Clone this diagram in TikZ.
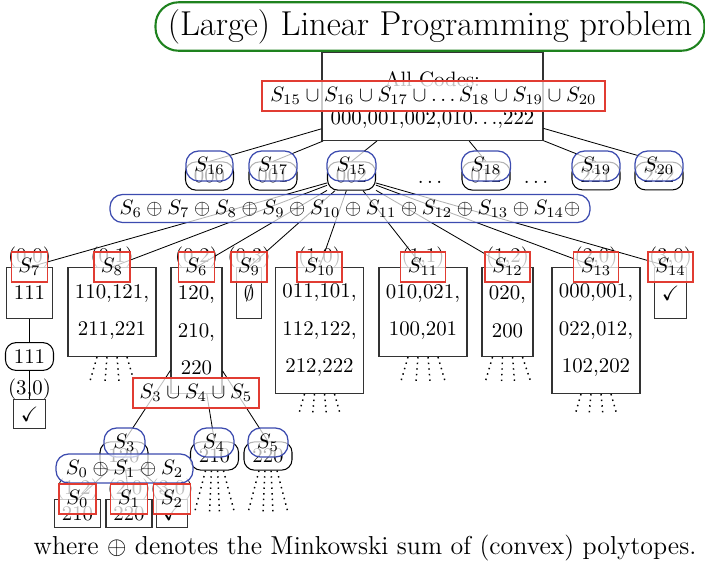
\documentclass[tikz,border=0pt]{standalone}
\usepackage{amssymb}
\usetikzlibrary{calc}
\definecolor{setred}{RGB}{225,60,50}
\definecolor{setblue}{RGB}{60,75,175}
\definecolor{titlegreen}{RGB}{30,130,30}
\newdimen\pxu \pxu=0.48pt
% four dotted stubs under a node: #1 node, #2 length, #3 top offsets/bottom offsets
\newcommand\stubs[3]{%
  \foreach \t/\d in {#3}{%
    \draw[stub] ($(#1.south)+(\t,0)$) -- ($(#1.south)+(\d,#2)$);}}
\tikzset{
  codebox/.style={draw=black!80, line width=0.5pt, inner sep=3.33pt, align=center,
    font=\fontsize{10}{18}\selectfont},
  coord/.style={label={[yshift=-4pt]above:#1}},
  codepill/.style={draw, line width=0.5pt, rounded corners=5pt, inner sep=3.33pt,
    minimum width=48\pxu, minimum height=25\pxu},
  link/.style={draw, line width=0.4pt},
  stub/.style={dotted, line width=0.7pt},
  redset/.style={draw=setred, line width=0.6pt, fill=white, fill opacity=0.75,
    text opacity=1, inner sep=2pt, minimum height=30\pxu},
  blueset/.style={draw=setblue, line width=0.6pt, rounded corners=6pt, fill=white,
    fill opacity=0.7, text opacity=1, inner sep=2pt, minimum height=30\pxu},
}
\begin{document}
\begin{tikzpicture}[x=0.48pt,y=-0.48pt]
\useasboundingbox (0,0) rectangle (705,564);

% title
\node[draw=titlegreen, line width=1pt, rounded corners=11pt, minimum width=549\pxu,
  minimum height=47\pxu, font=\fontsize{16.6}{19}\selectfont] (title) at (430,26.5)
  {(Large) Linear Programming problem};

% root
\node[draw=black!80, line width=0.5pt, minimum width=221\pxu, minimum height=88\pxu]
  (root) at (432.5,96.5) {};
\node (rootA) at (432.5,79) {All Codes:};
\node (rootB) at (432.5,120) {000,001,002,010$\ldots$,222};

% first level
\node[codepill] (n000) at (209.5,176) {000};
\node[codepill] (n001) at (273,176) {001};
\node[codepill] (n002) at (351.5,176) {002};
\node[anchor=base] (d1) at (430,183) {$\ldots$};
\node[codepill] (n012) at (486,176) {012};
\node[anchor=base] (d2) at (536,183) {$\ldots$};
\node[codepill] (n221) at (596,176) {221};
\node[codepill] (n222) at (659,176) {222};
\foreach \c in {n000,n001,n002,n012,n221,n222}
  \path[link] (root) -- (\c.north);

% second level
\node[codebox, anchor=north, minimum width=45\pxu, minimum height=51\pxu,
  coord={(0,0)}] (c7) at (29.5,267) {111};
\node[codebox, anchor=north, minimum width=88\pxu, minimum height=89\pxu,
  coord={(0,1)}] (c8) at (112,267) {110,121,\\211,221};
\node[codebox, anchor=north, minimum width=51\pxu, minimum height=126\pxu,
  coord={(0,2)}] (c6) at (196.5,267) {120,\\210,\\220};
\node[codebox, anchor=north, minimum width=24\pxu, minimum height=51\pxu,
  coord={(0,3)}] (c9) at (249,267) {$\emptyset$};
\node[codebox, anchor=north, minimum width=87\pxu, minimum height=126\pxu,
  coord={(1,0)}] (c10) at (319.5,267) {011,101,\\112,122,\\212,222};
\node[codebox, anchor=north, minimum width=88\pxu, minimum height=89\pxu,
  coord={(1,1)}] (c11) at (423,267) {010,021,\\100,201};
\node[codebox, anchor=north, minimum width=51\pxu, minimum height=89\pxu,
  coord={(1,2)}] (c12) at (507.5,267) {020,\\200};
\node[codebox, anchor=north, minimum width=88\pxu, minimum height=126\pxu,
  coord={(2,0)}] (c13) at (596,267) {000,001,\\022,012,\\102,202};
\node[codebox, anchor=north, minimum width=31\pxu, minimum height=51\pxu,
  coord={(3,0)}] (c14) at (670.5,267) {$\checkmark$};
\foreach \c in {c7,c8,c6,c9,c10,c11,c12,c13,c14}
  \path[link] (n002) -- (\c.north);

% branch below S7
\node[codepill] (r111) at (29.5,356.5) {111};
\node[codebox, anchor=north, minimum width=31\pxu, minimum height=29\pxu,
  coord={(3,0)}] (chk) at (29.5,399) {$\checkmark$};
\path[link] (c7.south) -- (r111);
\path[link] (r111) -- (chk.north);

% third level below S6
\node[codepill] (t120) at (124,456) {120};
\node[codepill] (t210) at (214.5,456) {210};
\node[codepill] (t220) at (268,456) {220};
\foreach \c in {t120,t210,t220}
  \path[link] (c6) -- (\c.north);

% fourth level below 120
\node[codebox, anchor=north, minimum width=45\pxu, minimum height=28\pxu,
  coord={(1,2)}] (b0) at (77.5,499) {210};
\node[codebox, anchor=north, minimum width=46\pxu, minimum height=28\pxu,
  coord={(2,0)}] (b1) at (129,499) {220};
\node[codebox, anchor=north, minimum width=30\pxu, minimum height=28\pxu,
  coord={(3,0)}] (b2) at (172,499) {$\checkmark$};
\foreach \c in {b0,b1,b2}
  \path[link] (t120) -- (\c.north);

% unexpanded subtrees
\stubs{c8}{24}{-15/-22,-5/-7,5/7,15/22}
\stubs{c11}{24}{-15/-22,-5/-7,5/7,15/22}
\stubs{c12}{24}{-15/-22,-5/-6,5/7,15/23}
\stubs{c10}{21}{-15/-21,-5/-7,5/7,15/21}
\stubs{c13}{21}{-15/-21,-5/-7,5/7,15/21}
\stubs{t210}{42}{-9/-20,-3/-5,3/5,9/20}
\stubs{t220}{42}{-9/-20,-3/-5,3/5,9/20}

% set overlays
\node[redset, minimum width=343\pxu] (uTop) at (433.5,96)
  {$S_{15}\cup S_{16}\cup S_{17}\cup\ldots S_{18}\cup S_{19}\cup S_{20}$};
\node[blueset, minimum width=47\pxu] (s16) at (209.5,166) {$S_{16}$};
\node[blueset, minimum width=48\pxu] (s17) at (273,166) {$S_{17}$};
\node[blueset, minimum width=49\pxu] (s15) at (351.5,166) {$S_{15}$};
\node[blueset, minimum width=49\pxu] (s18) at (486,166) {$S_{18}$};
\node[blueset, minimum width=48\pxu] (s19) at (596,166) {$S_{19}$};
\node[blueset, minimum width=48\pxu] (s20) at (659,166) {$S_{20}$};
\node[blueset, minimum width=480\pxu, minimum height=28\pxu] (sumA) at (350,208.5)
  {$S_6\oplus S_7\oplus S_8\oplus S_9\oplus S_{10}\oplus S_{11}\oplus S_{12}\oplus S_{13}\oplus S_{14}\oplus$};
\foreach \c/\s/\w in {c7/7/36,c8/8/36,c6/6/36,c9/9/36,c10/{10}/45,c11/{11}/45,c12/{12}/45,c13/{13}/45,c14/{14}/45}
  \node[redset, minimum width=\w\pxu] (r\c) at (\c.north) {$S_{\s}$};
\node[redset, minimum width=126\pxu] (uMid) at (196,393) {$S_3\cup S_4\cup S_5$};
\node[blueset, minimum width=41\pxu, minimum height=29\pxu] (s3) at (124.5,442.5) {$S_3$};
\node[blueset, minimum width=40\pxu, minimum height=29\pxu] (s4) at (214,442.5) {$S_4$};
\node[blueset, minimum width=40\pxu, minimum height=29\pxu] (s5) at (268,442.5) {$S_5$};
\node[blueset, minimum width=137\pxu, minimum height=29\pxu] (sumB) at (124.5,468.5)
  {$S_0\oplus S_1\oplus S_2$};
\foreach \c/\s in {b0/0,b1/1,b2/2}
  \node[redset, minimum width=37\pxu] (r\c) at (\c.north) {$S_{\s}$};

% caption
\node[font=\fontsize{12.45}{15}\selectfont] (caption) at (365,548)
  {where $\oplus$ denotes the Minkowski sum of (convex) polytopes.};
\end{tikzpicture}
\end{document}
